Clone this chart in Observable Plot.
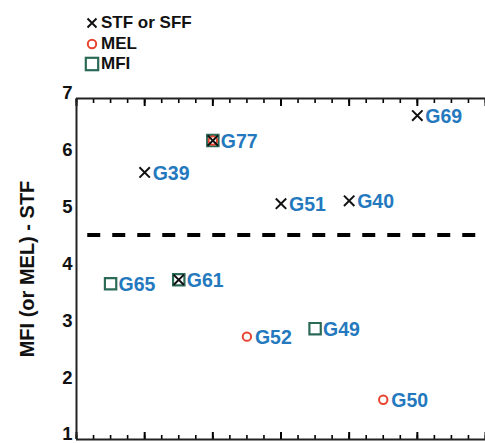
<!DOCTYPE html>
<html>
<head>
<meta charset="utf-8">
<script src="https://cdn.jsdelivr.net/npm/d3@7"></script>
<script src="https://cdn.jsdelivr.net/npm/@observablehq/plot@0.6"></script>
<style>
  html, body { margin: 0; padding: 0; background: #fff; }
  #wrap { position: relative; width: 485px; height: 443px; overflow: hidden; font-family: "Liberation Sans", Arial, sans-serif; }
  #legend { position: absolute; left: 84px; top: 13px; font-weight: bold; font-size: 17px; color: #111; line-height: 20.5px; }
  #legend .row { display: flex; align-items: center; height: 20.5px; }
  #legend svg { width: 16px; height: 16px; margin-right: 1px; }
</style>
</head>
<body>
<div id="wrap">
  <div id="legend"></div>
  <div id="chart"></div>
</div>
<script>
// Data
const names  = ["G65", "G39", "G61", "G77", "G52", "G51", "G49", "G40", "G50", "G69"];
const xIndex = [1, 2, 3, 4, 5, 6, 7, 8, 9, 10];
const values = [3.74, 5.70, 3.81, 6.26, 2.81, 5.15, 2.95, 5.20, 1.70, 6.70];
const stfNames = ["G39", "G77", "G51", "G40", "G69", "G61"];
const melNames = ["G77", "G52", "G50"];
const mfiNames = ["G65", "G77", "G61", "G49"];
const threshold = 4.6;
const yTicks = [1, 2, 3, 4, 5, 6, 7];
const legendLabels = ["STF or SFF", "MEL", "MFI"];
const yLabel = "MFI (or MEL) - STF";

const colors = { stf: "#111111", mel: "#e8432e", mfi: "#2c6a58", label: "#2479be" };

const rows = names.map((n, i) => ({ name: n, x: xIndex[i], y: values[i] }));
const pick = list => rows.filter(d => list.includes(d.name));

const minorTicks = d3.range(0, 12.01, 0.5);
const majorTicks = d3.range(0, 12.01, 2);

const chart = Plot.plot({
  width: 485,
  height: 443,
  marginTop: 98,
  marginBottom: 4,
  marginLeft: 76,
  marginRight: 0,
  style: { fontFamily: "Liberation Sans, Arial, sans-serif", background: "transparent" },
  x: { domain: [0, 12], axis: null },
  y: { domain: [1, 7], axis: null },
  marks: [
    // inward ticks on top and bottom frame
    Plot.axisX({ anchor: "bottom", ticks: minorTicks, tickSize: -4, tickFormat: () => "", strokeWidth: 1.6, label: null }),
    Plot.axisX({ anchor: "bottom", ticks: majorTicks, tickSize: -7, tickFormat: () => "", strokeWidth: 2, label: null }),
    Plot.axisX({ anchor: "top", ticks: minorTicks, tickSize: -4, tickFormat: () => "", strokeWidth: 1.6, label: null }),
    Plot.axisX({ anchor: "top", ticks: majorTicks, tickSize: -7, tickFormat: () => "", strokeWidth: 2, label: null }),
    Plot.axisY({ ticks: yTicks, tickSize: 0, tickPadding: 4, tickFormat: "d", fontSize: 18.5, fontWeight: "bold",
                 fill: "#111", dy: -5, label: null }),
    Plot.axisY({ ticks: [], tickSize: 0, label: yLabel, labelAnchor: "center", labelArrow: "none",
                 labelOffset: 57, fontSize: 20, fontWeight: "bold", fill: "#111", dy: 32 }),
    // frame lines
    Plot.ruleX([0], { stroke: "#222", strokeWidth: 2 }),
    Plot.ruleY([1, 7], { stroke: "#222", strokeWidth: 2 }),
    // threshold
    Plot.ruleY([threshold], { x1: 0.33, x2: 12, stroke: "#000", strokeWidth: 4, strokeDasharray: "13 12" }),
    // markers
    Plot.dot(pick(mfiNames), { x: "x", y: "y", symbol: "square", r: 6.4, stroke: colors.mfi, strokeWidth: 2.2, fill: "none" }),
    Plot.dot(pick(melNames), { x: "x", y: "y", symbol: "circle", r: 4.2, stroke: colors.mel, strokeWidth: 2, fill: "none" }),
    Plot.dot(pick(stfNames), { x: "x", y: "y", symbol: "times", r: 4.8, stroke: colors.stf, strokeWidth: 2 }),
    // labels
    Plot.text(rows, { x: "x", y: "y", text: "name", textAnchor: "start", dx: 8, dy: 1, fill: colors.label,
                      fontSize: 19.5, fontWeight: "bold" })
  ]
});
document.getElementById("chart").appendChild(chart);

// Legend
const legendSymbols = [
  `<svg viewBox="0 0 16 16"><path d="M3.5 3.5L12.5 12.5M12.5 3.5L3.5 12.5" stroke="${colors.stf}" stroke-width="2"/></svg>`,
  `<svg viewBox="0 0 16 16"><circle cx="8" cy="8" r="4.2" fill="none" stroke="${colors.mel}" stroke-width="2"/></svg>`,
  `<svg viewBox="0 0 16 16"><rect x="1.8" y="1.8" width="12.4" height="12.4" fill="none" stroke="${colors.mfi}" stroke-width="2.2"/></svg>`
];
document.getElementById("legend").innerHTML = legendLabels
  .map((l, i) => `<div class="row">${legendSymbols[i]}<span>${l}</span></div>`).join("");
</script>
</body>
</html>
